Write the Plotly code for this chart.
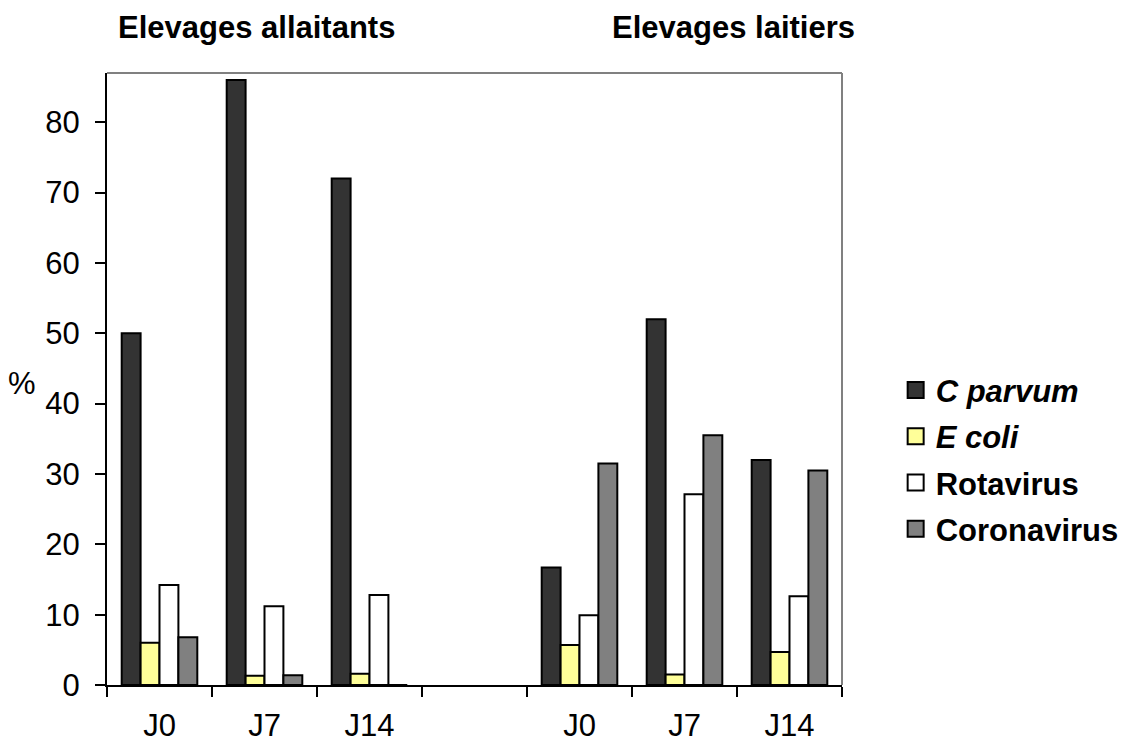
import plotly.graph_objects as go

categories = ["J0", "J7", "J14", " ", "J0\u200b", "J7\u200b", "J14\u200b"]
series_names = ["<b><i>C parvum</i></b>", "<b><i>E coli</i></b>", "<b>Rotavirus</b>", "<b>Coronavirus</b>"]
c_parvum = [50, 86, 72, None, 16.7, 52, 32]
e_coli = [6.0, 1.3, 1.6, None, 5.7, 1.5, 4.7]
rotavirus = [14.2, 11.2, 12.8, None, 9.9, 27.1, 12.6]
coronavirus = [6.8, 1.4, 0, None, 31.5, 35.5, 30.5]
colors = ["#333333", "#FFFF99", "#FFFFFF", "#808080"]
group_titles = ["Elevages allaitants", "Elevages laitiers"]

FONT = "Liberation Sans, Arial, sans-serif"
FS = 31
fig = go.Figure()
for name, vals, col in zip(series_names, [c_parvum, e_coli, rotavirus, coronavirus], colors):
    fig.add_trace(go.Bar(x=categories, y=vals, marker=dict(color=col, line=dict(color="black", width=2)),
                         showlegend=False, name=name))
for i, (name, col) in enumerate(zip(series_names, colors)):
    fig.add_trace(go.Scatter(x=[None], y=[None], mode="markers", name=name, legendgroup=str(i),
                             marker=dict(symbol="square", size=16, color=col, line=dict(color="black", width=2))))

fig.update_layout(
    width=1131, height=747,
    margin=dict(l=107, r=289, t=73, b=62, autoexpand=False),
    paper_bgcolor="white", plot_bgcolor="white",
    barmode="group", bargap=0.28, bargroupgap=0,
    font=dict(family=FONT, size=FS, color="black"),
    legend=dict(x=1.073, y=0.368, xanchor="left", yanchor="middle", tracegroupgap=3,
                font=dict(size=FS), itemsizing="trace", bgcolor="rgba(0,0,0,0)"),
    xaxis=dict(type="category", tickson="boundaries", ticks="outside", ticklen=10, tickwidth=2,
               tickcolor="black", showline=True, linecolor="black", linewidth=2, showgrid=False,
               ticklabelstandoff=12, range=[-0.5, 6.5], automargin=False),
    yaxis=dict(range=[0, 87], dtick=10, ticks="outside", ticklen=10, tickwidth=2, tickcolor="black",
               showline=True, linecolor="black", linewidth=2, showgrid=False, zeroline=False,
               ticklabelstandoff=9, automargin=False),
)
fig.add_shape(type="line", xref="x domain", yref="y domain", x0=0, x1=1, y0=1, y1=1,
              line=dict(color="#808080", width=2))
fig.add_shape(type="line", xref="x domain", yref="y domain", x0=1, x1=1, y0=0, y1=1,
              line=dict(color="#808080", width=2))
fig.add_annotation(text="<b>" + group_titles[0] + "</b>", xref="paper", yref="paper", x=0.203, y=1.074,
                   showarrow=False, font=dict(size=FS), xanchor="center", yanchor="middle")
fig.add_annotation(text="<b>" + group_titles[1] + "</b>", xref="paper", yref="paper", x=0.852, y=1.074,
                   showarrow=False, font=dict(size=FS), xanchor="center", yanchor="middle")
fig.add_annotation(text="%", xref="paper", yref="paper", x=-0.115, y=0.492,
                   showarrow=False, font=dict(size=FS), xanchor="center", yanchor="middle")
fig.write_html("out.html", config={"displayModeBar": False},
               post_script="document.body.style.margin='0px';")
